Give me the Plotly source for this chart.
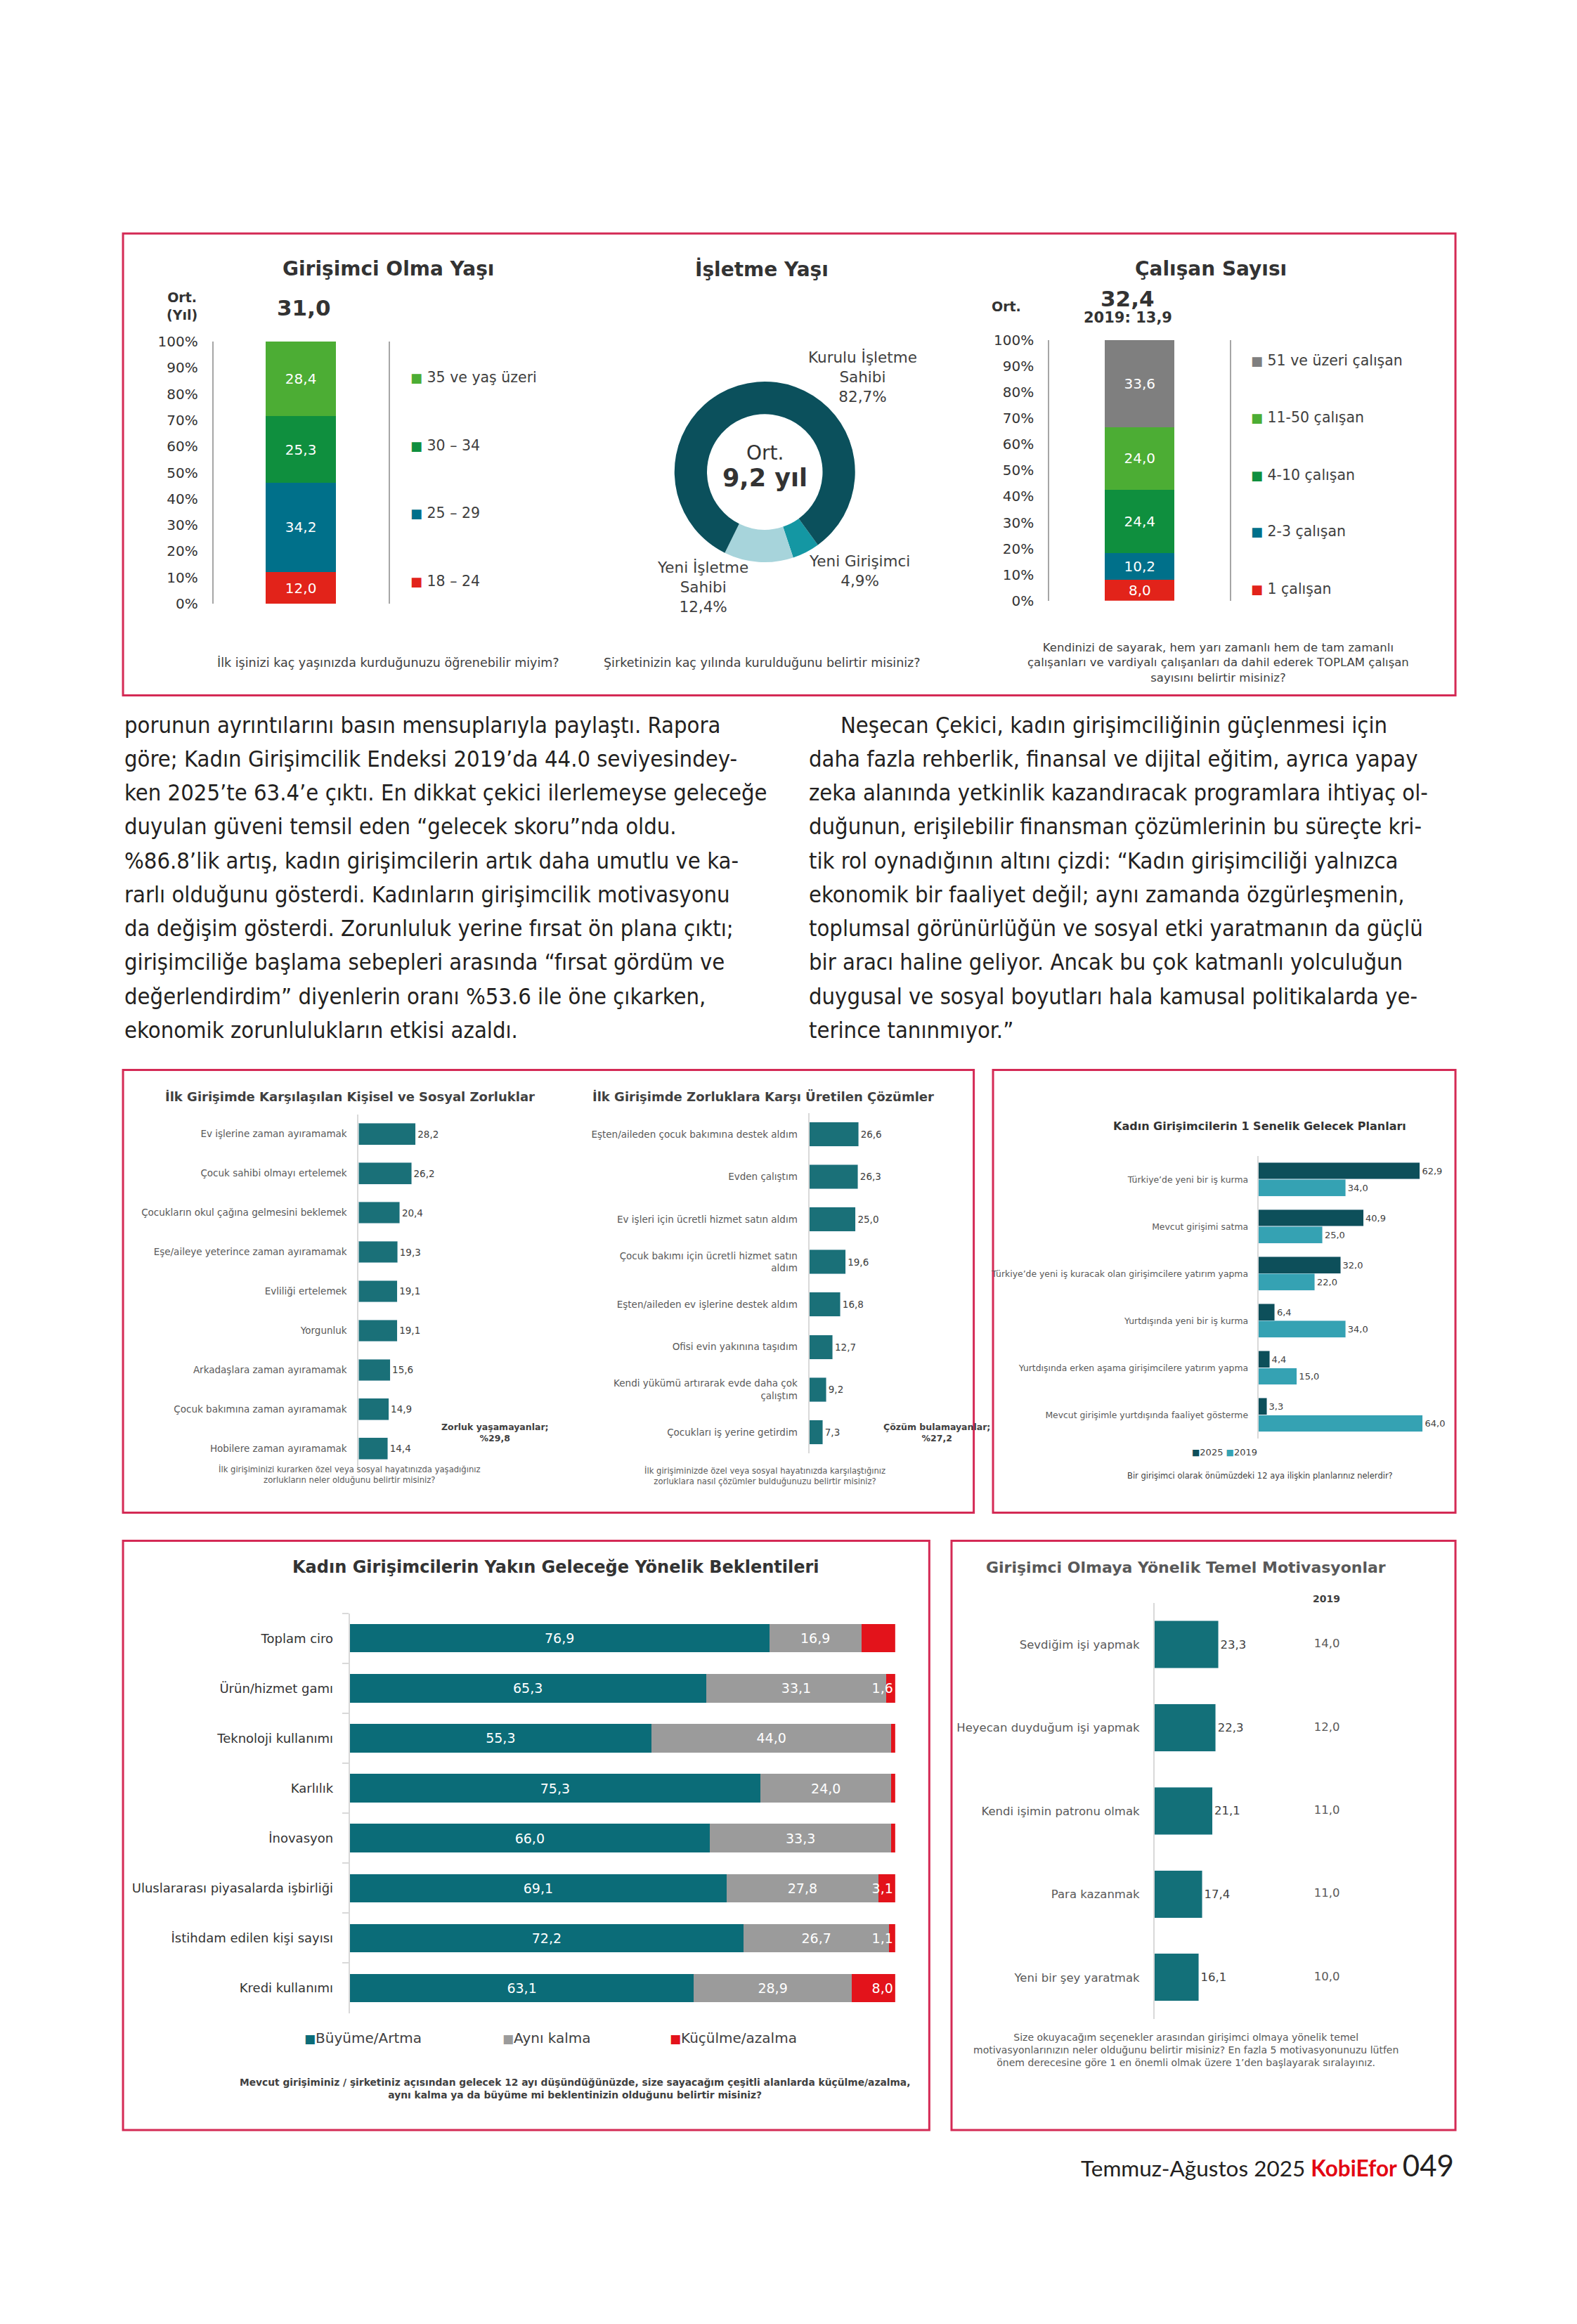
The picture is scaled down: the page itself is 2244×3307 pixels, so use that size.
import plotly.graph_objects as go

# ---------------- data ----------------
age_groups = ["18 – 24", "25 – 29", "30 – 34", "35 ve yaş üzeri"]
age_shares = [12.0, 34.2, 25.3, 28.4]
age_avg = "31,0"

firm_types = ["Yeni Girişimci", "Yeni İşletme Sahibi", "Kurulu İşletme Sahibi"]
firm_shares = [4.9, 12.4, 82.7]
firm_avg = "9,2 yıl"

emp_groups = ["1 çalışan", "2-3 çalışan", "4-10 çalışan", "11-50 çalışan", "51 ve üzeri çalışan"]
emp_shares = [8.0, 10.2, 24.4, 24.0, 33.6]
emp_avg = "32,4"
emp_avg_2019 = "13,9"

pct_ticks = [0, 10, 20, 30, 40, 50, 60, 70, 80, 90, 100]
pct_tick_labels = ["0%", "10%", "20%", "30%", "40%", "50%", "60%", "70%", "80%", "90%", "100%"]

challenges = ["Ev işlerine zaman ayıramamak", "Çocuk sahibi olmayı ertelemek",
              "Çocukların okul çağına gelmesini beklemek", "Eşe/aileye yeterince zaman ayıramamak",
              "Evliliği ertelemek", "Yorgunluk", "Arkadaşlara zaman ayıramamak",
              "Çocuk bakımına zaman ayıramamak", "Hobilere zaman ayıramamak"]
challenge_vals = [28.2, 26.2, 20.4, 19.3, 19.1, 19.1, 15.6, 14.9, 14.4]
no_challenge = "29,8"

solutions = ["Eşten/aileden çocuk bakımına destek aldım", "Evden çalıştım",
             "Ev işleri için ücretli hizmet satın aldım",
             "Çocuk bakımı için ücretli hizmet satın<br>aldım",
             "Eşten/aileden ev işlerine destek aldım", "Ofisi evin yakınına taşıdım",
             "Kendi yükümü artırarak evde daha çok<br>çalıştım", "Çocukları iş yerine getirdim"]
solution_vals = [26.6, 26.3, 25.0, 19.6, 16.8, 12.7, 9.2, 7.3]
no_solution = "27,2"

plans = ["Türkiye’de yeni bir iş kurma", "Mevcut girişimi satma",
         "Türkiye’de yeni iş kuracak olan girişimcilere yatırım yapma",
         "Yurtdışında yeni bir iş kurma", "Yurtdışında erken aşama girişimcilere yatırım yapma",
         "Mevcut girişimle yurtdışında faaliyet gösterme"]
plans_2025 = [62.9, 40.9, 32.0, 6.4, 4.4, 3.3]
plans_2019 = [34.0, 25.0, 22.0, 34.0, 15.0, 64.0]

areas = ["Toplam ciro", "Ürün/hizmet gamı", "Teknoloji kullanımı", "Karlılık", "İnovasyon",
         "Uluslararası piyasalarda işbirliği", "İstihdam edilen kişi sayısı", "Kredi kullanımı"]
growth = [76.9, 65.3, 55.3, 75.3, 66.0, 69.1, 72.2, 63.1]
same = [16.9, 33.1, 44.0, 24.0, 33.3, 27.8, 26.7, 28.9]
shrink = [6.2, 1.6, 0.7, 0.7, 0.7, 3.1, 1.1, 8.0]
shrink_labelled = [True, True, False, False, False, True, True, True]
expect_names = ["Büyüme/Artma", "Aynı kalma", "Küçülme/azalma"]

motivations = ["Sevdiğim işi yapmak", "Heyecan duyduğum işi yapmak", "Kendi işimin patronu olmak",
               "Para kazanmak", "Yeni bir şey yaratmak"]
motiv_2025 = [23.3, 22.3, 21.1, 17.4, 16.1]
motiv_2019 = [14.0, 12.0, 11.0, 11.0, 10.0]

body_left = [
    "porunun ayrıntılarını basın mensuplarıyla paylaştı. Rapora",
    "göre; Kadın Girişimcilik Endeksi 2019’da 44.0 seviyesindey-",
    "ken 2025’te 63.4’e çıktı. En dikkat çekici ilerlemeyse geleceğe",
    "duyulan güveni temsil eden “gelecek skoru”nda oldu.",
    "%86.8’lik artış, kadın girişimcilerin artık daha umutlu ve ka-",
    "rarlı olduğunu gösterdi. Kadınların girişimcilik motivasyonu",
    "da değişim gösterdi. Zorunluluk yerine fırsat ön plana çıktı;",
    "girişimciliğe başlama sebepleri arasında “fırsat gördüm ve",
    "değerlendirdim” diyenlerin oranı %53.6 ile öne çıkarken,",
    "ekonomik zorunlulukların etkisi azaldı.",
]
body_right = [
    "Neşecan Çekici, kadın girişimciliğinin güçlenmesi için",
    "daha fazla rehberlik, finansal ve dijital eğitim, ayrıca yapay",
    "zeka alanında yetkinlik kazandıracak programlara ihtiyaç ol-",
    "duğunun, erişilebilir finansman çözümlerinin bu süreçte kri-",
    "tik rol oynadığının altını çizdi: “Kadın girişimciliği yalnızca",
    "ekonomik bir faaliyet değil; aynı zamanda özgürleşmenin,",
    "toplumsal görünürlüğün ve sosyal etki yaratmanın da güçlü",
    "bir aracı haline geliyor. Ancak bu çok katmanlı yolculuğun",
    "duygusal ve sosyal boyutları hala kamusal politikalarda ye-",
    "terince tanınmıyor.”",
]

# ---------------- styling / layout helpers ----------------
W, H = 2244, 3307
K = 2.109
CH = "DejaVu Sans, Verdana, sans-serif"
BODY = "Liberation Sans Narrow, Arial Narrow, DejaVu Sans Condensed, sans-serif"
FOOT = "Lato, DejaVu Sans, sans-serif"
BORDER = "#d42a55"

def fx(v): return v * K / W
def fy(v): return 1 - (v * 1.0062 - 5.0) * K / H
def xdom(a, b): return [fx(a), fx(b)]
def ydom(a, b): return [fy(b), fy(a)]
def tr(v): return f"{v:.1f}".replace(".", ",")

age_colors = ["#e2231a", "#00708a", "#0f8f3e", "#4cad34"]
emp_colors = ["#e2231a", "#00708a", "#0f8f3e", "#4cad34", "#7f7f7f"]
firm_colors = ["#1497a3", "#a7d4db", "#0b505c"]
expect_colors = ["#0b6c78", "#9b9b9b", "#e3131b"]

fig = go.Figure()

# top-left stacked bar
for g, v, c in zip(age_groups, age_shares, age_colors):
    fig.add_trace(go.Bar(x=["a"], y=[v], name=g, marker=dict(color=c, line=dict(width=0)), width=0.4,
                         text=[tr(v)], textposition="inside", insidetextanchor="middle", textangle=0,
                         constraintext="none", textfont=dict(color="white", size=20, family=CH),
                         xaxis="x", yaxis="y", showlegend=False, hoverinfo="skip"))
# top-right stacked bar
for g, v, c in zip(emp_groups, emp_shares, emp_colors):
    fig.add_trace(go.Bar(x=["a"], y=[v], name=g, marker=dict(color=c, line=dict(width=0)), width=0.385,
                         text=[tr(v)], textposition="inside", insidetextanchor="middle", textangle=0,
                         constraintext="none", textfont=dict(color="white", size=20, family=CH),
                         xaxis="x2", yaxis="y2", showlegend=False, hoverinfo="skip"))
# donut
cx, cy, R = 516, 318, 61
fig.add_trace(go.Pie(values=firm_shares, labels=firm_types, hole=0.64, sort=False, direction="clockwise",
                     rotation=144, marker=dict(colors=firm_colors, line=dict(width=0)), textinfo="none",
                     domain=dict(x=xdom(cx - R, cx + R), y=ydom(cy - R, cy + R)), showlegend=False,
                     hoverinfo="skip"))
# chart A
fig.add_trace(go.Bar(y=challenges, x=challenge_vals, orientation="h", marker_color="#1a7078", width=0.55,
                     text=[tr(v) for v in challenge_vals], textposition="outside", cliponaxis=False,
                     textfont=dict(size=13.5, color="#404040", family=CH), xaxis="x3", yaxis="y3",
                     showlegend=False, hoverinfo="skip"))
# chart B
fig.add_trace(go.Bar(y=solutions, x=solution_vals, orientation="h", marker_color="#1a7078", width=0.57,
                     text=[tr(v) for v in solution_vals], textposition="outside", cliponaxis=False,
                     textfont=dict(size=13.5, color="#404040", family=CH), xaxis="x4", yaxis="y4",
                     showlegend=False, hoverinfo="skip"))
# chart C (two years, separate overlaid y-axes so they sit side by side)
fig.add_trace(go.Bar(y=plans, x=plans_2025, orientation="h", marker_color="#0d4f5a", width=0.355,
                     offset=-0.36, text=[tr(v) for v in plans_2025], textposition="outside",
                     cliponaxis=False, textfont=dict(size=13, color="#404040", family=CH),
                     xaxis="x5", yaxis="y5", showlegend=False, hoverinfo="skip"))
fig.add_trace(go.Bar(y=plans, x=plans_2019, orientation="h", marker_color="#35a2b3", width=0.355,
                     offset=0.0, text=[tr(v) for v in plans_2019], textposition="outside",
                     cliponaxis=False, textfont=dict(size=13, color="#404040", family=CH),
                     xaxis="x5", yaxis="y8", showlegend=False, hoverinfo="skip"))
# chart D (stacked 100%)
for name, vals, col in zip(expect_names, [growth, same, shrink], expect_colors):
    if name == expect_names[2]:
        txt = [tr(v) if show else "" for v, show in zip(vals, shrink_labelled)]
        anchor = "end"
    else:
        txt = [tr(v) for v in vals]
        anchor = "middle"
    fig.add_trace(go.Bar(y=areas, x=vals, orientation="h", name=name, marker=dict(color=col, line=dict(width=0)),
                         width=0.567, text=txt, textposition="inside", insidetextanchor=anchor,
                         constraintext="none", textangle=0, cliponaxis=False,
                         textfont=dict(size=19, color="white", family=CH),
                         xaxis="x6", yaxis="y6", showlegend=False, hoverinfo="skip"))
# chart E
fig.add_trace(go.Bar(y=motivations, x=motiv_2025, orientation="h", marker_color="#137079", width=0.57,
                     text=[tr(v) for v in motiv_2025], textposition="outside", cliponaxis=False,
                     textfont=dict(size=16.5, color="#404040", family=CH), xaxis="x7", yaxis="y7",
                     showlegend=False, hoverinfo="skip"))
fig.add_trace(go.Scatter(y=motivations, x=[63] * len(motivations), mode="text",
                         text=[tr(v) for v in motiv_2019], textposition="middle center",
                         textfont=dict(size=16.5, color="#595959", family=CH), cliponaxis=False,
                         xaxis="x7", yaxis="y7", showlegend=False, hoverinfo="skip"))

# ---------------- axes ----------------
def hidden_x(a, b, rng, anchor):
    return dict(domain=xdom(a, b), range=rng, visible=False, anchor=anchor, fixedrange=True)

def stack_y(a, b, anchor):
    return dict(domain=ydom(a, b), range=[0, 100], tickmode="array", tickvals=pct_ticks,
                ticktext=pct_tick_labels, showline=True, mirror=True, linecolor="#a6a6a6", linewidth=2,
                showgrid=False, zeroline=False, ticks="", ticklabelstandoff=16, anchor=anchor,
                tickfont=dict(size=20, color="#333333", family=CH))

def cat_y(a, b, anchor, size, color="#595959", standoff=12, **kw):
    d = dict(domain=ydom(a, b), autorange="reversed", showline=True, linecolor="#d9d9d9", linewidth=2,
             showgrid=False, zeroline=False, ticks="", ticklabelstandoff=standoff, anchor=anchor,
             tickfont=dict(size=size, color=color, family=CH))
    d.update(kw)
    return d

layout_axes = dict(
    xaxis=dict(domain=xdom(144, 262), range=[-0.5, 0.5], visible=False, anchor="y"),
    yaxis=stack_y(230, 407, "x"),
    xaxis2=dict(domain=xdom(708, 830), range=[-0.5, 0.5], visible=False, anchor="y2"),
    yaxis2=stack_y(229, 405, "x2"),
    xaxis3=hidden_x(242, 242 + 1.36 * 45, [0, 45], "y3"),
    yaxis3=cat_y(752, 991, "x3", 13.5),
    xaxis4=hidden_x(546, 546 + 1.25 * 45, [0, 45], "y4"),
    yaxis4=cat_y(751, 981, "x4", 13.5),
    xaxis5=hidden_x(849, 849 + 1.733 * 72, [0, 72], "y5"),
    yaxis5=cat_y(780, 971, "x5", 12.4, standoff=10),
    yaxis8=dict(overlaying="y5", anchor="x5", autorange="reversed", visible=False),
    xaxis6=hidden_x(236, 604, [0, 100], "y6"),
    yaxis6=cat_y(1089, 1359, "x6", 18, color="#333333", standoff=18, ticks="outside",
                 tickson="boundaries", ticklen=9, tickcolor="#d9d9d9", tickwidth=2),
    xaxis7=hidden_x(779, 779 + 1.845 * 80, [0, 80], "y7"),
    yaxis7=cat_y(1082, 1363, "x7", 16.5, standoff=16),
)

# ---------------- annotations ----------------
ann = []
def A(x, y, text, size, color="#333333", bold=False, xanchor="center", family=CH, yanchor="middle"):
    ann.append(dict(x=fx(x), y=fy(y), xref="paper", yref="paper", text=(f"<b>{text}</b>" if bold else text),
                    showarrow=False, xanchor=xanchor, yanchor=yanchor, align="center",
                    font=dict(size=size, color=color, family=family)))

def sq(color, size):
    return f"<span style='color:{color};font-size:{size}px'>■</span>"

# top panel
A(262, 181, "Girişimci Olma Yaşı", 28, "#333333", True)
A(123, 206, "Ort.<br>(Yıl)", 19, "#333333", True)
A(205, 207, age_avg, 31, "#333333", True)
for g, c, yy in zip(age_groups, age_colors, [392, 346, 300, 254]):
    A(276, yy, f"{sq(c, 18)} {g}", 20.5, "#404040", xanchor="left")
A(262, 447, "İlk işinizi kaç yaşınızda kurduğunuzu öğrenebilir miyim?", 17.5, "#404040")

A(514, 181, "İşletme Yaşı", 28, "#333333", True)
A(cx, 305, "Ort.", 28, "#333333")
A(cx, 322, firm_avg, 35, "#333333", True)
donut_label_pos = [(580, 385), (474, 396), (582, 254)]
for name, v, (lx, ly) in zip(firm_types, firm_shares, donut_label_pos):
    A(lx, ly, name.replace(" Sahibi", "<br>Sahibi") + f"<br>{tr(v)}%", 21.5, "#404040")
A(514, 447, "Şirketinizin kaç yılında kurulduğunu belirtir misiniz?", 17.5, "#404040")

A(817, 181, "Çalışan Sayısı", 28, "#333333", True)
A(679, 206, "Ort.", 19, "#333333", True)
A(761, 201, emp_avg, 31, "#333333", True)
A(761, 214, "2019: " + emp_avg_2019, 21, "#333333", True)
for g, c, yy in zip(emp_groups, emp_colors, [397, 358, 320, 281, 243]):
    A(843, yy, f"{sq(c, 18)} {g}", 20.5, "#404040", xanchor="left")
A(822, 447, "Kendinizi de sayarak, hem yarı zamanlı hem de tam zamanlı<br>"
            "çalışanları ve vardiyalı çalışanları da dahil ederek TOPLAM çalışan<br>"
            "sayısını belirtir misiniz?", 16.5, "#404040")

# body text
for i, line in enumerate(body_left):
    A(83, 489 + 22.9 * i, line, 32.5, "#231f20", xanchor="left", family=BODY)
for i, line in enumerate(body_right):
    A(545 + (21 if i == 0 else 0), 489 + 22.9 * i, line, 32.5, "#231f20", xanchor="left", family=BODY)

# middle panels
A(236, 740, "İlk Girişimde Karşılaşılan Kişisel ve Sosyal Zorluklar", 18, "#404040", True)
A(515, 740, "İlk Girişimde Zorluklara Karşı Üretilen Çözümler", 18, "#404040", True)
A(334, 967, f"Zorluk yaşamayanlar;<br>%{no_challenge}", 12.5, "#404040", True)
A(632, 967, f"Çözüm bulamayanlar;<br>%{no_solution}", 12.5, "#404040", True)
A(236, 995, "İlk girişiminizi kurarken özel veya sosyal hayatınızda yaşadığınız<br>"
            "zorlukların neler olduğunu belirtir misiniz?", 11.6, "#595959")
A(516, 996, "İlk girişiminizde özel veya sosyal hayatınızda karşılaştığınız<br>"
            "zorluklara nasıl çözümler bulduğunuzu belirtir misiniz?", 11.6, "#595959")

A(850, 760, "Kadın Girişimcilerin 1 Senelik Gelecek Planları", 16, "#333333", True)
A(826, 980, f"{sq('#0d4f5a', 12)}2025 {sq('#35a2b3', 12)}2019", 13, "#404040")
A(850, 996, "Bir girişimci olarak önümüzdeki 12 aya ilişkin planlarınız nelerdir?", 11.5, "#404040")

# bottom panels
A(375, 1058, "Kadın Girişimcilerin Yakın Geleceğe Yönelik Beklentileri", 24, "#333333", True)
for name, col, lx in zip(expect_names, expect_colors, [245, 369, 495]):
    A(lx, 1376, f"{sq(col, 17)}{name}", 20, "#404040")
A(388, 1410, "Mevcut girişiminiz / şirketiniz açısından gelecek 12 ayı düşündüğünüzde, size sayacağım "
             "çeşitli alanlarda küçülme/azalma,<br>aynı kalma ya da büyüme mi beklentinizin olduğunu "
             "belirtir misiniz?", 13.8, "#404040", True)

A(800, 1058, "Girişimci Olmaya Yönelik Temel Motivasyonlar", 22, "#595959", True)
A(895, 1079, "2019", 14, "#404040", True)
A(800, 1384, "Size okuyacağım seçenekler arasından girişimci olmaya yönelik temel<br>"
             "motivasyonlarınızın neler olduğunu belirtir misiniz? En fazla 5 motivasyonunuzu lütfen<br>"
             "önem derecesine göre 1 en önemli olmak üzere 1’den başlayarak sıralayınız.", 14, "#595959")

# footer
A(982, 1462, "Temmuz-Ağustos 2025 <span style='color:#e30613'><b>KobiEfor</b></span> "
             "<span style='font-size:42px'>049</span>", 31.5, "#231f20", xanchor="right", family=FOOT)

# ---------------- panel borders ----------------
shapes = []
for (x0, y0, x1, y1) in [(83, 157, 982, 469), (83, 722, 657, 1021), (670, 722, 982, 1021),
                         (83, 1040, 627, 1438), (642, 1040, 982, 1438)]:
    shapes.append(dict(type="rect", xref="paper", yref="paper", x0=fx(x0), x1=fx(x1), y0=fy(y1), y1=fy(y0),
                       line=dict(color=BORDER, width=3), fillcolor="rgba(0,0,0,0)", layer="below"))

fig.update_layout(width=W, height=H, margin=dict(l=0, r=0, t=0, b=0), paper_bgcolor="white",
                  plot_bgcolor="rgba(0,0,0,0)", barmode="stack", separators=", ",
                  annotations=ann, shapes=shapes, showlegend=False, **layout_axes)

fig.write_html("out.html", config={"displayModeBar": False},
               post_script="document.body.style.margin='0';document.body.style.overflow='hidden';")
